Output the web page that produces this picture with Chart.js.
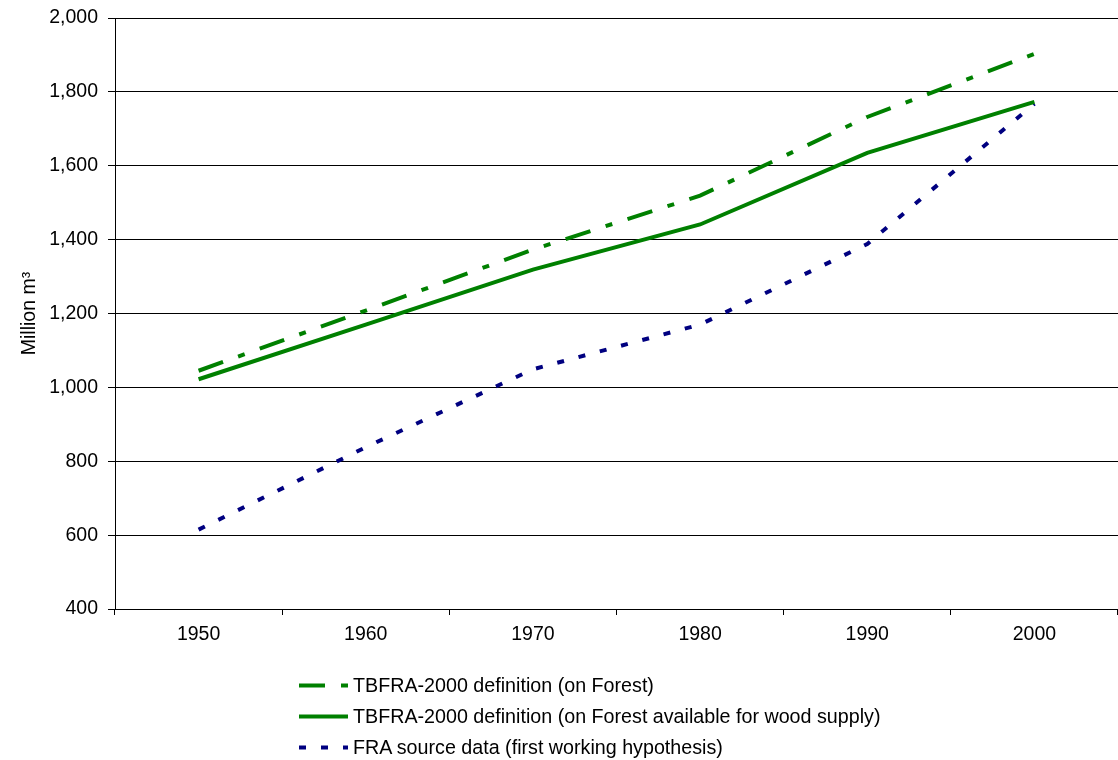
<!DOCTYPE html>
<html lang="en">
<head>
  <meta charset="UTF-8" />
  <title>Growing stock, million m3</title>
  <style>
    html, body {
      margin: 0;
      padding: 0;
      background-color: white;
      font-family: "Liberation Sans", Arial, sans-serif;
    }
    #wrap {
      position: relative;
      width: 1118px;
      height: 760px;
    }
    #chart {
      position: absolute;
      top: 0;
      left: 0;
    }
    #legend {
      position: absolute;
      left: 299px;
      top: 670px;
    }
    .row {
      display: flex;
      align-items: center;
      height: 31px;
      font-size: 19.7px;
      color: #000;
      white-space: nowrap;
    }
    .row svg {
      width: 49px;
      height: 31px;
      flex: none;
      margin-right: 5px;
    }
  </style>
  <script src="https://cdn.jsdelivr.net/npm/chart.js"></script>
</head>
<body>
  <div id="wrap">
    <canvas id="chart" width="1118" height="760"></canvas>
    <div id="legend"></div>
  </div>

  <script>
    const years = ['1950', '1960', '1970', '1980', '1990', '2000'];
    const onForest = [1045, 1208, 1373, 1519, 1732, 1903];
    const onForestAvailable = [1022, 1170, 1319, 1441, 1635, 1773];
    const fraSource = [615, 838, 1049, 1170, 1388, 1768];

    const seriesNames = [
      'TBFRA-2000 definition (on Forest)',
      'TBFRA-2000 definition (on Forest available for wood supply)',
      'FRA source data (first working hypothesis)'
    ];

    const green = '#008000';
    const navy = '#000080';
    const font = { family: '"Liberation Sans", Arial, sans-serif', size: 19.5 };

    const datasets = [
      { label: seriesNames[0], data: onForest, borderColor: green, borderWidth: 4, borderDash: [26, 16, 7, 16] },
      { label: seriesNames[1], data: onForestAvailable, borderColor: green, borderWidth: 4, borderDash: [] },
      { label: seriesNames[2], data: fraSource, borderColor: navy, borderWidth: 4, borderDash: [7, 15] }
    ];

    // legend drawn as html so each entry gets its own row
    const legend = document.getElementById('legend');
    datasets.forEach(ds => {
      const row = document.createElement('div');
      row.className = 'row';
      const dash = ds.borderDash.length ? ds.borderDash.join(' ') : 'none';
      row.innerHTML =
        `<svg viewBox="0 0 49 31"><line x1="0" y1="15.5" x2="49" y2="15.5" stroke="${ds.borderColor}" stroke-width="4" stroke-dasharray="${dash}"/></svg>` +
        `<span>${ds.label}</span>`;
      legend.appendChild(row);
    });

    new Chart(document.getElementById('chart').getContext('2d'), {
      type: 'line',
      data: {
        labels: years,
        datasets: datasets.map(ds => ({
          ...ds,
          fill: false,
          tension: 0,
          pointRadius: 0,
          borderCapStyle: 'butt'
        }))
      },
      options: {
        responsive: false,
        animation: false,
        layout: { padding: { top: 18, right: 0, left: 0, bottom: 0 } },
        plugins: {
          legend: { display: false },
          tooltip: { enabled: false }
        },
        scales: {
          x: {
            offset: true,
            grid: { offset: true, drawOnChartArea: false, drawTicks: true, tickLength: 6, color: '#000' },
            border: { display: true, color: '#000' },
            ticks: { color: '#000', font: font, padding: 8, maxRotation: 0 },
            afterFit: scale => { scale.height = 151; }
          },
          y: {
            min: 400,
            max: 2000,
            ticks: {
              stepSize: 200,
              color: '#000',
              font: font,
              padding: 10,
              callback: v => v.toLocaleString('en-US')
            },
            grid: { color: '#000', tickLength: 7 },
            border: { display: true, color: '#000' },
            title: {
              display: true,
              text: 'Million m³',
              color: '#000',
              font: font,
              padding: { top: 18, bottom: 0 }
            },
            afterFit: scale => {
              scale.width = 115;
              // keep the plot top fixed, label overflow fits in the layout padding
              scale.paddingTop = 0;
              scale.paddingBottom = 0;
            }
          }
        }
      }
    });
  </script>
</body>
</html>
